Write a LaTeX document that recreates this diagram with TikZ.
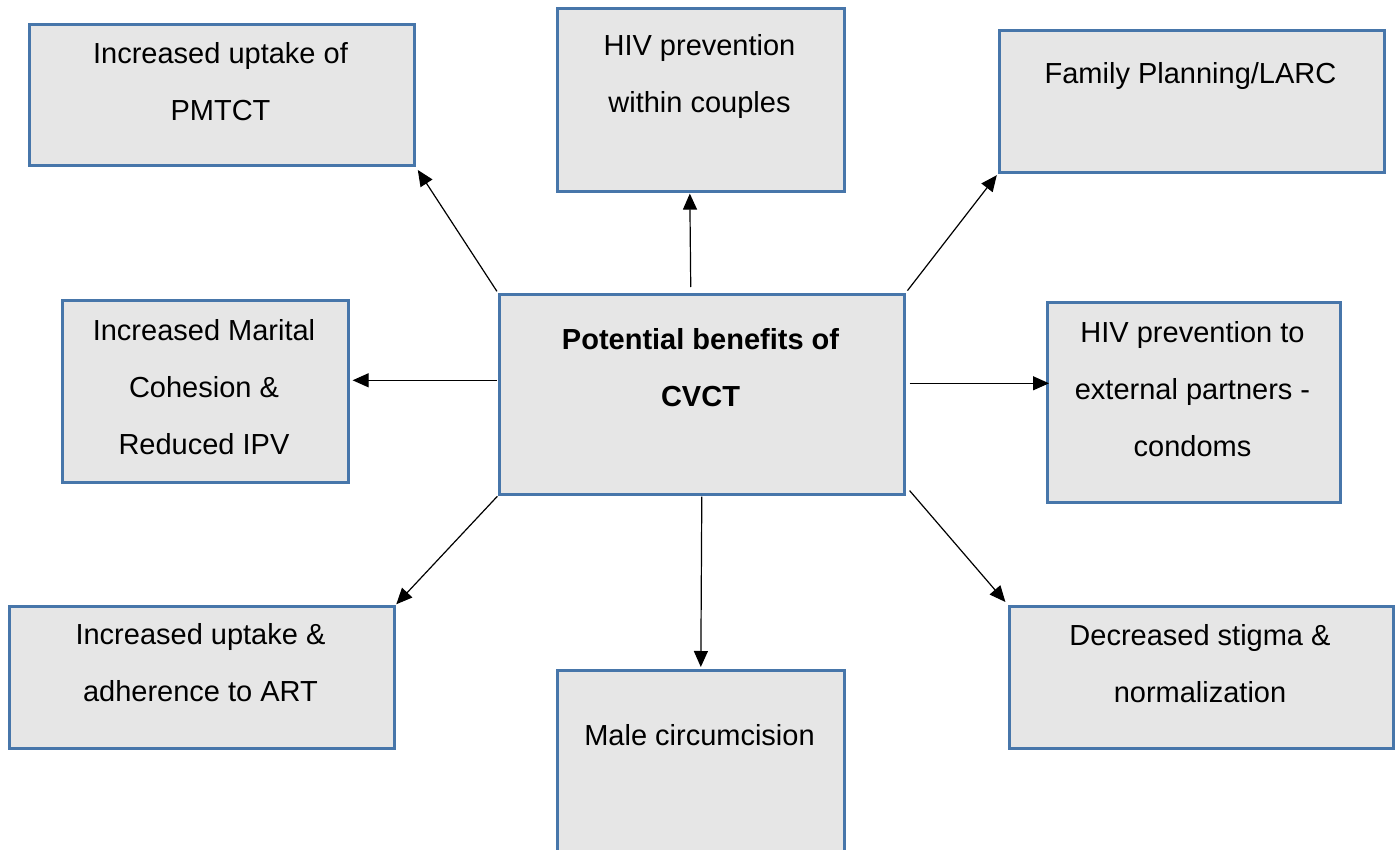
\documentclass[tikz,border=0pt]{standalone}
\usepackage{fontspec}
\setmainfont{Liberation Sans}
\usetikzlibrary{arrows.meta}
\definecolor{boxborder}{HTML}{4776AA}
\definecolor{boxfill}{HTML}{E6E6E6}
\tikzset{
  box/.style={draw=boxborder, line width=2.6pt, fill=boxfill, rectangle, inner sep=0pt, anchor=north west},
  txt/.style={align=center, inner sep=0pt, anchor=north, font=\fontsize{29}{57}\selectfont},
  conn/.style={draw=black, line width=1.2pt, -{Triangle[length=16pt,width=14pt]}}
}
\begin{document}
\begin{tikzpicture}[x=1pt,y=-1pt]
\useasboundingbox (0,0) rectangle (1397,850);
\clip (0,0) rectangle (1397,850);
% boxes
\node[box, minimum width=385pt, minimum height=141pt] (pm) at (28,23) {};
\node[box, minimum width=287pt, minimum height=183pt] (hc) at (556,7) {};
\node[box, minimum width=385pt, minimum height=142pt] (fp) at (998,29) {};
\node[box, minimum width=286pt, minimum height=182pt] (mar) at (61,299) {};
\node[box, minimum width=405pt, minimum height=200pt] (c) at (498,293) {};
\node[box, minimum width=293pt, minimum height=200pt] (ext) at (1046,301) {};
\node[box, minimum width=385pt, minimum height=142pt] (art) at (8,605) {};
\node[box, minimum width=287pt, minimum height=220pt] (mc) at (556,669) {};
\node[box, minimum width=384pt, minimum height=142pt] (st) at (1008,605) {};
% texts
\node[txt] (pmt) at (220.5,42) {Increased uptake of\\PMTCT};
\node[txt] (hct) at (699.5,34) {HIV prevention\\within couples};
\node[txt] (fpt) at (1190.5,62) {Family Planning/LARC};
\node[txt] (mart) at (204,319) {Increased Marital\\Cohesion \&\\Reduced IPV};
\node[txt, font=\fontsize{29}{57}\selectfont\bfseries] (ct) at (700.5,328) {Potential benefits of\\CVCT};
\node[txt] (extt) at (1192.5,321) {HIV prevention to\\external partners -\\condoms};
\node[txt] (artt) at (200.5,623) {Increased uptake \&\\adherence to ART};
\node[txt] (mct) at (699.5,724) {Male circumcision};
\node[txt] (stt) at (1200,624) {Decreased stigma \&\\normalization};
% connectors
\draw[conn, shorten <=2pt, shorten >=4pt] (c.north west) -- (pm.south east);
\draw[conn, shorten <=6pt, shorten >=1pt] ([xshift=-11pt]c.north) -- ([xshift=-11pt]hc.south);
\draw[conn, shorten <=3pt, shorten >=2pt] (c.north east) -- (fp.south west);
\draw[conn, shorten <=1pt, shorten >=3pt] ([yshift=14pt]c.west) -- ([yshift=11pt]mar.east);
\draw[conn, shorten <=4pt, shorten >=-3pt] ([yshift=11pt]c.east) -- ([yshift=19pt]ext.west);
\draw[conn, shorten <=1pt, shorten >=1pt] (c.south west) -- (art.north east);
\draw[conn, shorten <=1pt, shorten >=2pt] (c.south) -- (mc.north);
\draw[conn, shorten <=0pt, shorten >=4pt] ([shift={(4pt,5pt)}]c.south east) -- (st.north west);
\end{tikzpicture}
\end{document}
